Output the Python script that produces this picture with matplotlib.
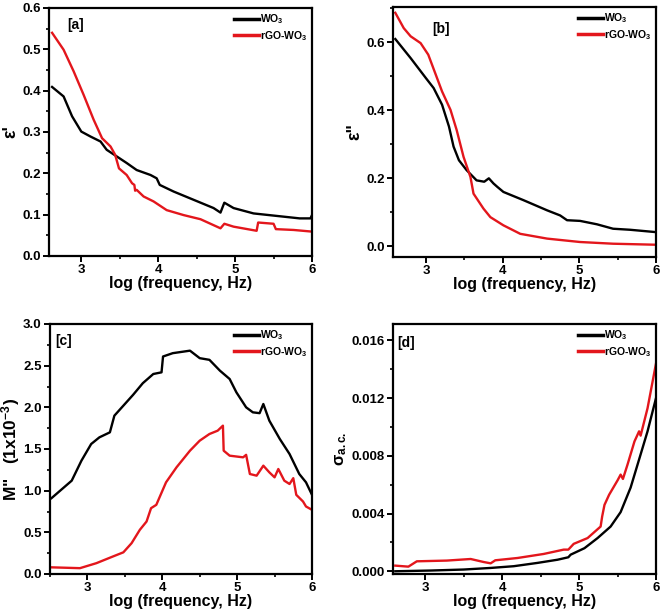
import matplotlib
matplotlib.use("Agg")
import matplotlib.pyplot as plt
from matplotlib.ticker import MultipleLocator, FormatStrFormatter

plt.rcParams['font.family'] = ['Liberation Sans', 'DejaVu Sans']
plt.rcParams['font.weight'] = 'bold'
plt.rcParams['mathtext.fontset'] = 'custom'
plt.rcParams['mathtext.rm'] = 'Liberation Sans:bold'
plt.rcParams['mathtext.bf'] = 'Liberation Sans:bold'
plt.rcParams['mathtext.it'] = 'Liberation Sans:bold'
plt.rcParams['mathtext.default'] = 'bf'

# ---- Panel a: epsilon' ----
a_wo3_x = [2.62, 2.77, 2.88, 3.0, 3.12, 3.25, 3.33, 3.46, 3.59, 3.72, 3.81, 3.90, 3.98, 4.02, 4.2, 4.46, 4.72, 4.81, 4.86, 4.98, 5.24, 5.54, 5.84, 5.98, 6.0]
a_wo3_y = [0.409, 0.386, 0.338, 0.301, 0.289, 0.277, 0.257, 0.241, 0.225, 0.208, 0.202, 0.196, 0.188, 0.172, 0.156, 0.136, 0.116, 0.105, 0.129, 0.116, 0.103, 0.097, 0.091, 0.091, 0.099]
a_rgo_x = [2.62, 2.77, 2.90, 3.03, 3.16, 3.27, 3.38, 3.44, 3.49, 3.59, 3.66, 3.69, 3.70, 3.72, 3.81, 3.94, 4.11, 4.33, 4.55, 4.81, 4.86, 4.98, 5.28, 5.30, 5.50, 5.53, 5.76, 6.0]
a_rgo_y = [0.540, 0.499, 0.447, 0.390, 0.330, 0.285, 0.265, 0.245, 0.212, 0.196, 0.176, 0.172, 0.158, 0.160, 0.144, 0.132, 0.111, 0.099, 0.089, 0.067, 0.078, 0.071, 0.061, 0.081, 0.078, 0.065, 0.063, 0.059]

# ---- Panel b: epsilon'' ----
b_wo3_x = [2.6, 2.80, 3.0, 3.10, 3.21, 3.30, 3.36, 3.43, 3.53, 3.66, 3.76, 3.82, 3.88, 3.93, 4.01, 4.27, 4.58, 4.75, 4.84, 5.01, 5.23, 5.44, 5.66, 6.0]
b_wo3_y = [0.609, 0.553, 0.494, 0.465, 0.416, 0.352, 0.293, 0.253, 0.224, 0.194, 0.190, 0.200, 0.185, 0.175, 0.160, 0.136, 0.106, 0.091, 0.077, 0.075, 0.065, 0.052, 0.049, 0.042]
b_rgo_x = [2.6, 2.71, 2.80, 2.93, 3.03, 3.12, 3.21, 3.32, 3.40, 3.49, 3.58, 3.62, 3.75, 3.84, 4.01, 4.23, 4.58, 5.01, 5.44, 6.0]
b_rgo_y = [0.686, 0.641, 0.617, 0.597, 0.563, 0.509, 0.455, 0.401, 0.342, 0.263, 0.204, 0.155, 0.111, 0.086, 0.062, 0.037, 0.023, 0.013, 0.008, 0.005]

# ---- Panel c: M'' ----
c_wo3_x = [2.52, 2.79, 2.92, 3.05, 3.16, 3.30, 3.36, 3.48, 3.61, 3.74, 3.88, 3.99, 4.01, 4.14, 4.37, 4.50, 4.63, 4.77, 4.90, 4.99, 5.12, 5.21, 5.30, 5.35, 5.43, 5.57, 5.70, 5.83, 5.92, 6.0]
c_wo3_y = [0.91, 1.12, 1.36, 1.56, 1.64, 1.70, 1.90, 2.02, 2.15, 2.29, 2.40, 2.42, 2.61, 2.65, 2.68, 2.59, 2.57, 2.44, 2.34, 2.18, 2.00, 1.94, 1.93, 2.04, 1.84, 1.62, 1.44, 1.20, 1.10, 0.95]
c_rgo_x = [2.52, 2.90, 3.12, 3.34, 3.48, 3.59, 3.70, 3.79, 3.85, 3.92, 4.05, 4.19, 4.37, 4.50, 4.63, 4.74, 4.81, 4.82, 4.90, 5.08, 5.12, 5.17, 5.26, 5.35, 5.43, 5.50, 5.55, 5.63, 5.70, 5.75, 5.79, 5.88, 5.92, 6.0]
c_rgo_y = [0.08, 0.07, 0.13, 0.21, 0.26, 0.37, 0.53, 0.63, 0.79, 0.83, 1.10, 1.28, 1.48, 1.60, 1.68, 1.72, 1.78, 1.48, 1.42, 1.40, 1.43, 1.20, 1.18, 1.30, 1.22, 1.16, 1.26, 1.12, 1.08, 1.15, 0.95, 0.87, 0.81, 0.77]

# ---- Panel d: sigma a.c. ----
d_wo3_x = [2.61, 3.07, 3.5, 3.85, 4.15, 4.46, 4.72, 4.86, 4.89, 5.07, 5.24, 5.41, 5.54, 5.67, 5.80, 5.89, 6.0]
d_wo3_y = [0.0, 0.00005, 0.00012, 0.00023, 0.00035, 0.00058, 0.0008, 0.00097, 0.00115, 0.0016, 0.0023, 0.0031, 0.0041, 0.0058, 0.0081, 0.0097, 0.0120]
d_rgo_x = [2.61, 2.78, 2.89, 3.28, 3.59, 3.76, 3.85, 3.91, 4.2, 4.54, 4.80, 4.86, 4.93, 5.11, 5.28, 5.30, 5.33, 5.39, 5.50, 5.54, 5.57, 5.63, 5.72, 5.78, 5.80, 5.89, 6.0]
d_rgo_y = [0.00039, 0.00032, 0.00069, 0.00074, 0.00085, 0.00064, 0.00055, 0.00076, 0.00092, 0.0012, 0.0015, 0.0015, 0.0019, 0.0023, 0.0031, 0.0038, 0.0046, 0.0053, 0.0063, 0.0067, 0.0064, 0.0074, 0.0090, 0.0097, 0.0094, 0.0113, 0.0144]

labels = ['WO$_3$', 'rGO-WO$_3$']
xlabel = 'log (frequency, Hz)'

W, H = 661, 616
fig = plt.figure(figsize=(W / 100, H / 100), dpi=100)

def px_axes(l, t, r, b):
    return fig.add_axes([l / W, 1 - b / H, (r - l) / W, (b - t) / H])

panels = [
    dict(box=(49, 8, 312, 256), xs=(a_wo3_x, a_rgo_x), ys=(a_wo3_y, a_rgo_y),
         xlim=(2.58, 6.0), ylim=(0, 0.6), ymaj=0.1, fmt='%.1f', ylabel="ε'", ylsize=13, lp=2,
         tag='[a]', tagpos=(0.068, 0.93)),
    dict(box=(393, 7, 656, 257), xs=(b_wo3_x, b_rgo_x), ys=(b_wo3_y, b_rgo_y),
         xlim=(2.57, 6.0), ylim=(-0.031, 0.703), ymaj=0.2, fmt='%.1f', ylabel='ε"', ylsize=13, lp=2,
         tag='[b]', tagpos=(0.15, 0.91)),
    dict(box=(50, 324, 312, 574), xs=(c_wo3_x, c_rgo_x), ys=(c_wo3_y, c_rgo_y),
         xlim=(2.5, 6.0), ylim=(0, 3.0), ymaj=0.5, fmt='%.1f', ylabel='M"   (1x10$^{-3}$)', ylsize=12.5, lp=0.5,
         tag='[c]', tagpos=(0.02, 0.93)),
    dict(box=(393, 324, 656, 574), xs=(d_wo3_x, d_rgo_x), ys=(d_wo3_y, d_rgo_y),
         xlim=(2.58, 6.0), ylim=(-0.00019, 0.01714), ymaj=0.004, fmt='%.3f', ylabel='σ$_{a.c.}$', ylsize=12, lp=2,
         tag='[d]', tagpos=(0.015, 0.925)),
]

colors = ['black', '#e3161c']
for p in panels:
    ax = px_axes(*p['box'])
    for x, y, c, lab in zip(p['xs'], p['ys'], colors, labels):
        ax.plot(x, y, color=c, lw=1.7, label=lab)
    ax.set_xlim(*p['xlim'])
    ax.set_ylim(*p['ylim'])
    ax.xaxis.set_major_locator(MultipleLocator(1))
    ax.xaxis.set_minor_locator(MultipleLocator(0.5))
    ax.yaxis.set_major_locator(MultipleLocator(p['ymaj']))
    ax.yaxis.set_minor_locator(MultipleLocator(p['ymaj'] / 2))
    ax.yaxis.set_major_formatter(FormatStrFormatter(p['fmt']))
    for s in ax.spines.values():
        s.set_linewidth(1.6)
    ax.tick_params(which='major', direction='out', length=4, width=1.4, labelsize=9.5, pad=2)
    ax.tick_params(which='minor', direction='out', length=2.5, width=1.2)
    for lbl in ax.get_xticklabels() + ax.get_yticklabels():
        lbl.set_fontweight('bold')
    ax.set_xlabel(xlabel, fontsize=11.5, fontweight='bold', labelpad=0)
    ax.set_ylabel(p['ylabel'], fontsize=p['ylsize'], fontweight='bold', labelpad=p['lp'])
    ax.text(*p['tagpos'], p['tag'], transform=ax.transAxes, fontsize=10,
            fontweight='bold', va='center', ha='left')
    leg = ax.legend(loc='upper right', frameon=False, fontsize=7.5, handlelength=2.4,
                    handletextpad=0.15, labelspacing=0.3, borderaxespad=0.2,
                    borderpad=0.2)
    for ln in leg.get_lines():
        ln.set_linewidth(2.5)

fig.savefig('out.png', dpi=100)
